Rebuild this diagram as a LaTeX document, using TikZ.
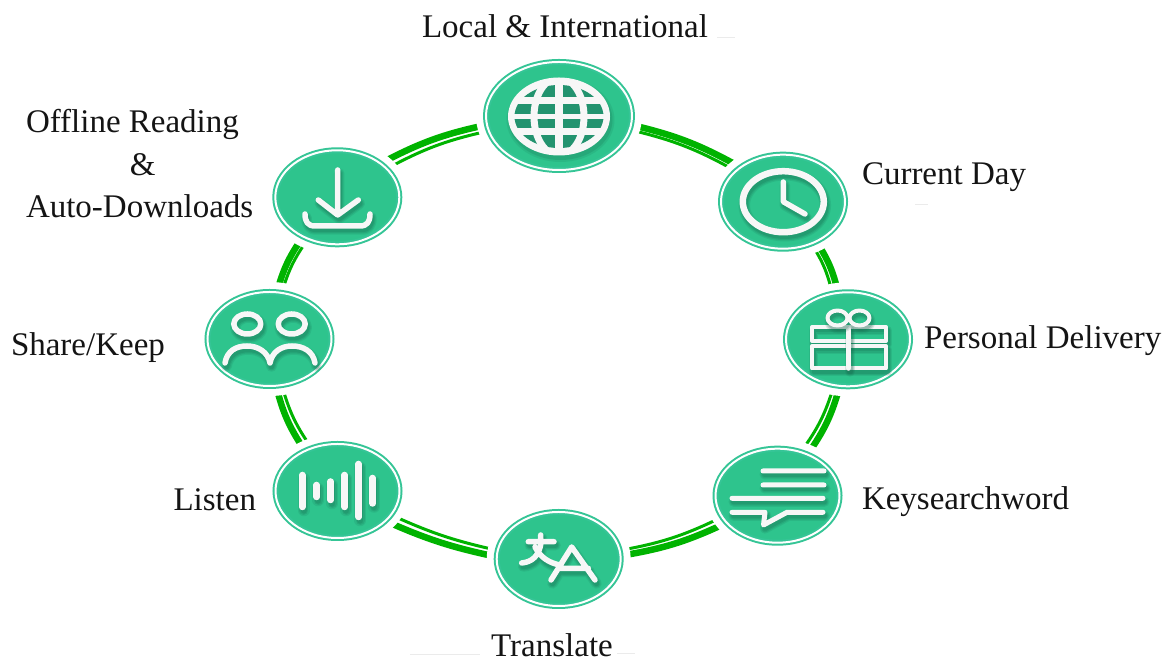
\documentclass[tikz,border=0pt]{standalone}
\usepackage{fontspec}
\setmainfont{Liberation Serif}
\usetikzlibrary{shapes.geometric}
\pgfdeclarelayer{bg}
\pgfsetlayers{bg,main}
\definecolor{discg}{HTML}{2EC48D}
\definecolor{ringg}{HTML}{35C596}
\definecolor{linkg}{HTML}{00B300}
\definecolor{shadeg}{HTML}{14644A}
\definecolor{cellg}{HTML}{23936F}
\tikzset{
  disc/.style={ellipse,inner sep=0pt,outer sep=0pt,fill=discg,draw=ringg,line width=2pt,
    double=white,double distance=2pt,
    preaction={draw=white,line width=20pt}},
  smalldisc/.style={disc,minimum width=124pt,minimum height=94pt},
  bigdisc/.style={disc,minimum width=146pt,minimum height=108pt},
  lbl/.style={inner sep=0pt,outer sep=0pt,text=black!92,font=\fontsize{33}{42.5}\selectfont},
  fatlink/.style={draw=linkg,line width=6.5pt},
  slimlink/.style={draw=linkg,line width=3pt},
  faint/.style={draw=black!8,line width=1pt}
}
\newcommand\glyph[2][5]{%
  \begin{scope}[shift={(1.5,-3.5)},line cap=round,line join=round]
    \draw[shadeg,opacity=.13,line width=#1pt+5pt] #2;
    \draw[shadeg,opacity=.16,line width=#1pt+2.5pt] #2;
    \draw[shadeg,opacity=.2,line width=#1pt] #2;
  \end{scope}
  \draw[white!97!black,line cap=round,line join=round,line width=#1pt] #2;
}
\begin{document}
\begin{tikzpicture}[x=1pt,y=1pt]
\useasboundingbox (0,0) rectangle (1176,663);
% nodes
\node[bigdisc]   (globe) at (559,663-116) {};
\node[smalldisc] (clock) at (783,663-201.7) {};
\node[smalldisc] (gift)  at (848,663-339.3) {};
\node[smalldisc] (key)   at (777.5,663-495.7) {};
\node[smalldisc] (trans) at (558.7,663-559) {};
\node[smalldisc] (listen) at (337.5,663-491) {};
\node[smalldisc] (share) at (269.5,663-339) {};
\node[smalldisc] (down)  at (337.3,663-197.3) {};
% connectors
\begin{pgfonlayer}{bg}
\draw[fatlink]  (globe.-7.6) to[bend left=8] (clock.141.2);
\draw[slimlink] (globe.-11.9) to[bend left=8] (clock.147.7);
\draw[fatlink]  (clock.-50.2) to[bend left=10] (gift.102.1);
\draw[slimlink] (clock.-56.3) to[bend left=10] (gift.109.1);
\draw[fatlink]  (gift.-100.9) to[bend left=10] (key.54.4);
\draw[slimlink] (gift.-107.8) to[bend left=10] (key.62.6);
\draw[fatlink]  (key.-152.9) to[bend left=8] (trans.3.2);
\draw[slimlink] (key.-159.1) to[bend left=8] (trans.8.8);
\draw[fatlink]  (trans.178.4) to[bend left=6] (listen.-32);
\draw[slimlink] (trans.172.1) to[bend left=6] (listen.-24.5);
\draw[fatlink]  (listen.129.5) to[bend left=10] (share.-82.6);
\draw[slimlink] (listen.121.2) to[bend left=10] (share.-75.7);
\draw[fatlink]  (share.81.4) to[bend left=10] (down.-131.8);
\draw[slimlink] (share.75.5) to[bend left=10] (down.-125.8);
\draw[fatlink]  (down.38.1) to[bend left=8] (globe.-173.1);
\draw[slimlink] (down.30.7) to[bend left=8] (globe.-168.3);
\end{pgfonlayer}
% globe icon
\begin{scope}[shift={(1.5,-4)}]
  \fill[shadeg,opacity=.12] (559,663-116) ellipse [x radius=54,y radius=42];
  \fill[shadeg,opacity=.18] (559,663-116) ellipse [x radius=52,y radius=40];
\end{scope}
\fill[white!97!black] (559,663-116.5) ellipse [x radius=51,y radius=39];
\fill[cellg] (559,663-116.5) ellipse [x radius=44.5,y radius=31.5];
\begin{scope}
  \clip (559,663-116.5) ellipse [x radius=48,y radius=36];
  \draw[white!97!black,line width=7pt] (500,663-101) -- (620,663-101);
  \draw[white!97!black,line width=5.5pt] (500,663-116.5) -- (620,663-116.5);
  \draw[white!97!black,line width=7pt] (500,663-132) -- (620,663-132);
  \draw[white!97!black,line width=7.5pt] (559,663-70) -- (559,663-160);
  \draw[white!97!black,line width=7pt] (559,663-116.5) ellipse [x radius=25,y radius=39];
\end{scope}
% clock icon
\glyph[6.5]{(783.3,663-201.7) ellipse [x radius=40.5,y radius=30.5]}
\glyph[5.5]{(783.3,663-182) -- (783.3,663-201.7) -- (805,663-214)}
% gift icon
\glyph[4]{(812,663-327) rectangle (886,663-341) (812,663-346) rectangle (886,663-368.5)}
\glyph[5.5]{(848.5,663-328) -- (848.5,663-368)}
\glyph[4]{(837.5,663-318) ellipse [x radius=10,y radius=7.5] (859.5,663-318) ellipse [x radius=10,y radius=7.5]}
% key icon
\glyph[5]{(763,663-471) -- (824,663-471) (763,663-485) -- (824,663-485) (732,663-498.3) -- (823,663-498.3)
  (732,663-512.3) -- (765,663-512.3) -- (763.5,663-525) -- (787,663-512.3) -- (823,663-512.3)}
% translate icon
\glyph[5.5]{(528.3,663-541.7) -- (554,663-541.7) (540.7,663-535) -- (540.7,663-541.7)
  (541,663-543) .. controls (539,663-556) and (532,663-562) .. (521.7,663-563)
  (535,663-547) .. controls (540,663-557) and (549,663-563) .. (560,663-565)
  (551,663-580) -- (571.7,663-547) -- (595,663-580) (558.3,663-568.3) -- (588.3,663-568.3)}
% listen icon
\glyph[6.5]{(302.3,663-475) -- (302.3,663-507) (316.7,663-485) -- (316.7,663-497) (330.7,663-481.5) -- (330.7,663-500)
  (344.7,663-475) -- (344.7,663-507) (358.7,663-464) -- (358.7,663-517) (372.7,663-478) -- (372.7,663-503.5)}
% share icon
\glyph[5.5]{(247.3,663-324) ellipse [x radius=13.5,y radius=10] (291.7,663-324) ellipse [x radius=13.5,y radius=10]
  (225,663-363) .. controls (227,663-351) and (236,663-346) .. (247,663-346) .. controls (258,663-346) and (268,663-352) .. (270,663-363)
  .. controls (272,663-352) and (281,663-346) .. (292,663-346) .. controls (303,663-346) and (313,663-351) .. (315,663-363)}
% download icon
\glyph[5.5]{(337.7,663-170) -- (337.7,663-215) (318.3,663-200) -- (337.7,663-215) -- (358.3,663-200)
  (305,663-214) .. controls (305,663-222) and (308,663-226) .. (315,663-226) -- (360,663-226) .. controls (367,663-226) and (370,663-222) .. (370,663-214)}
% faint marks
\draw[faint] (717,663-38) -- (735,663-38);
\draw[faint] (617,663-654) -- (635,663-654);
\draw[faint] (410,663-655) -- (480,663-655);
\draw[faint] (915,663-205) -- (928,663-205);
% labels
\node[lbl,anchor=center] (t1) at (565,663-26) {Local \& International};
\node[lbl,anchor=west] (t2) at (862,663-177) {Current Day};
\node[lbl,anchor=west] (t3) at (924,663-341) {Personal Delivery};
\node[lbl,anchor=west] (t4) at (862,663-502) {Keysearchword};
\node[lbl,anchor=center] (t5) at (552,663-645) {Translate};
\node[lbl,anchor=east] (t6) at (256,663-499.5) {Listen};
\node[lbl,anchor=west] (t7) at (11,663-348) {Share/Keep};
\node[lbl,anchor=west,align=left] (t8) at (26,663-164) {Offline Reading\\\hspace*{104pt}\&\\Auto-Downloads};
\end{tikzpicture}
\end{document}
